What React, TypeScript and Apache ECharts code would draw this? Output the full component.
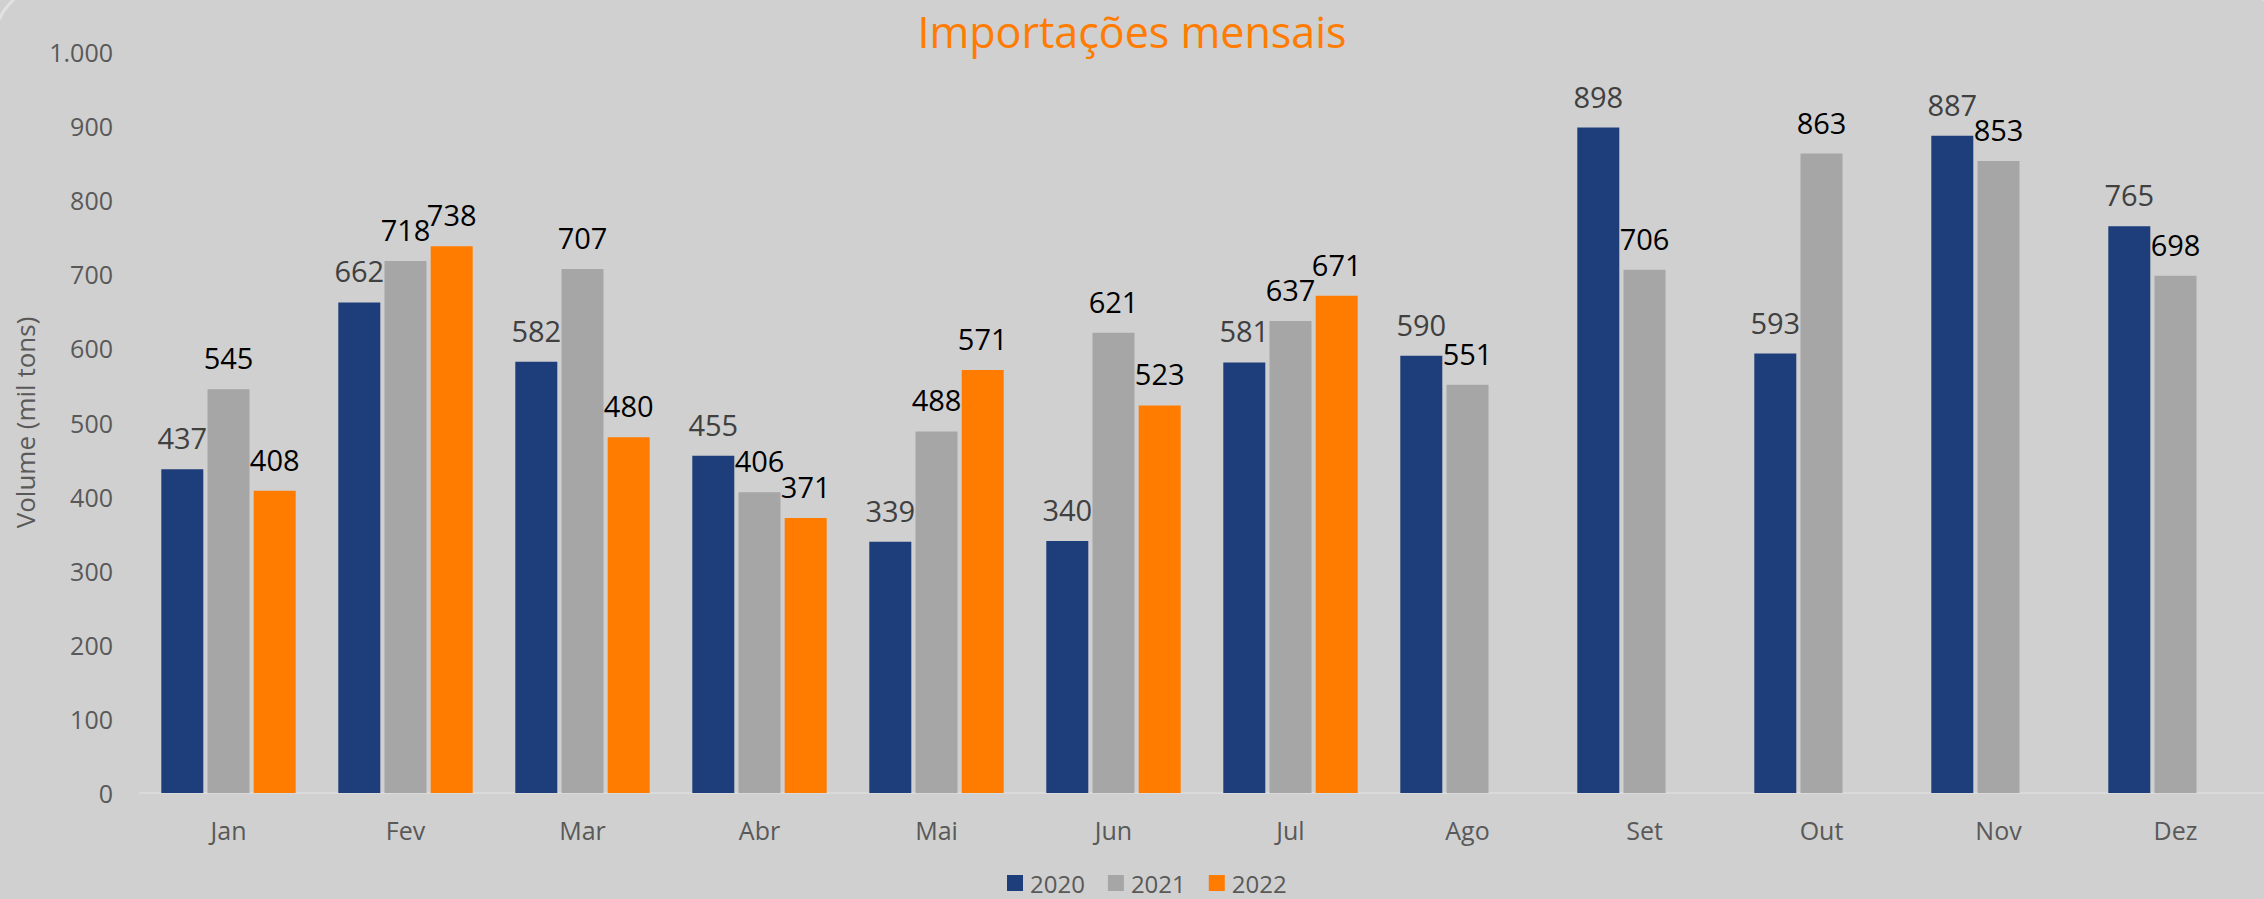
import React, { useEffect, useRef } from "react";
import * as echarts from "echarts";

const months = ["Jan", "Fev", "Mar", "Abr", "Mai", "Jun", "Jul", "Ago", "Set", "Out", "Nov", "Dez"];
const years = ["2020", "2021", "2022"];
const values2020 = [437, 662, 582, 455, 339, 340, 581, 590, 898, 593, 887, 765];
const values2021 = [545, 718, 707, 406, 488, 621, 637, 551, 706, 863, 853, 698];
const values2022: (number | null)[] = [408, 738, 480, 371, 571, 523, 671, null, null, null, null, null];
const yTicks = [0, 100, 200, 300, 400, 500, 600, 700, 800, 900, 1000];

const FONT = "'Open Sans', 'Noto Sans', sans-serif";
const colors = ["#1E3E7B", "#A6A6A6", "#FF7C00"];
const labelColors = ["#404040", "#000000", "#000000"];

export default function App() {
  const ref = useRef<HTMLDivElement>(null);
  useEffect(() => {
    if (!ref.current) return;
    const chart = echarts.init(ref.current, undefined, { renderer: "svg" });
    const seriesData = [values2020, values2021, values2022];
    chart.setOption({
      animation: false,
      backgroundColor: "#D0D0D0",
      textStyle: { fontFamily: FONT },
      graphic: [
        {
          type: "rect",
          silent: true,
          z: -1,
          shape: { x: -6, y: -16, width: 2290, height: 960, r: 60 },
          style: { fill: "none", stroke: "#E2E2E2", lineWidth: 3 },
        },
      ],
      title: {
        text: "Importações mensais",
        left: "center",
        top: 10,
        padding: 0,
        textStyle: { color: "#FF7C00", fontSize: 43, fontWeight: "normal", fontFamily: FONT },
      },
      legend: {
        data: years,
        top: 871,
        left: 1007,
        padding: 0,
        itemWidth: 16,
        itemHeight: 16,
        itemGap: 23,
        icon: "rect",
        textStyle: { color: "#595959", fontSize: 24, fontFamily: FONT, padding: [0, 0, 0, 2] },
      },
      grid: { left: 140, right: -4, top: 52, bottom: 106, containLabel: false },
      xAxis: {
        type: "category",
        data: months,
        axisLine: { show: true, lineStyle: { color: "#DADADA", width: 2 } },
        axisTick: { show: false },
        axisLabel: { color: "#595959", fontSize: 25, margin: 24, fontFamily: FONT },
      },
      yAxis: {
        type: "value",
        min: yTicks[0],
        max: yTicks[yTicks.length - 1],
        interval: 100,
        name: "Volume (mil tons)",
        nameLocation: "middle",
        nameGap: 102,
        nameTextStyle: { color: "#595959", fontSize: 26, fontFamily: FONT },
        axisLine: { show: false },
        axisTick: { show: false },
        splitLine: { show: false },
        axisLabel: {
          color: "#595959",
          fontSize: 25,
          margin: 27,
          fontFamily: FONT,
          formatter: (v: number) => (v >= 1000 ? (v / 1000).toFixed(3) : String(v)),
        },
      },
      series: years.map((y, i) => ({
        name: y,
        type: "bar",
        data: seriesData[i],
        barWidth: 42,
        barGap: "10%",
        itemStyle: { color: colors[i] },
        label: {
          show: true,
          position: "top",
          distance: 17,
          color: labelColors[i],
          fontSize: 29,
          fontFamily: FONT,
        },
      })),
    });
    return () => chart.dispose();
  }, []);
  return (
    <div
      ref={ref}
      style={{ position: "fixed", left: 0, top: 0, width: 2264, height: 899 }}
    />
  );
}
